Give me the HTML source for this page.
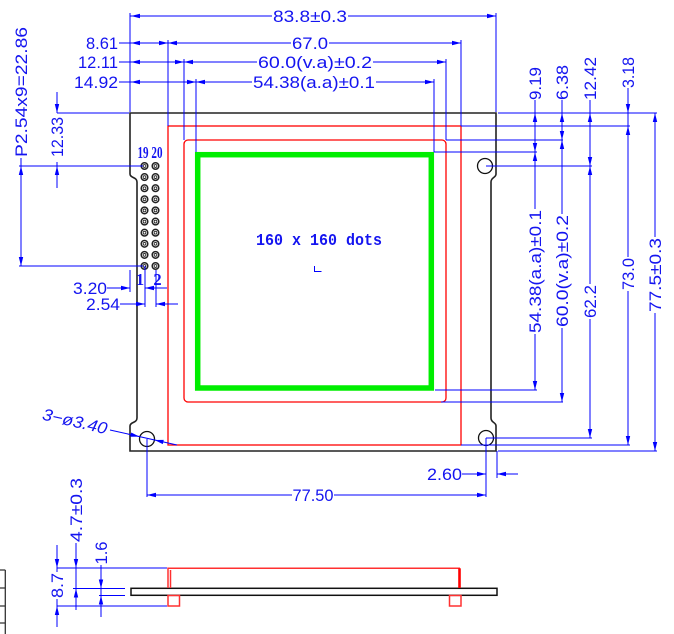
<!DOCTYPE html>
<html><head><meta charset="utf-8"><style>
html,body{margin:0;padding:0;background:#fff;}
svg{display:block}
text{font-family:"Liberation Sans",sans-serif;font-size:16.5px;fill:#1414f0;}
.b{font-family:"Liberation Serif",serif;font-weight:bold;}
.m{font-family:"Liberation Mono",monospace;font-weight:bold;}
</style></head><body>
<svg width="674" height="634" viewBox="0 0 674 634" xmlns="http://www.w3.org/2000/svg">
<rect width="674" height="634" fill="#fff"/>
<path d="M130,113 H496 V174 C496,178 491,177 491,182 V418 C491,423 496,422 496,426 V451 H130 V426 C130,422 137,423 137,418 V182 C137,177 130,178 130,174 Z" fill="none" stroke="#222" stroke-width="1.6"/>
<rect x="168" y="126" width="293" height="319" fill="none" stroke="#ff0000" stroke-width="1.3"/>
<rect x="184" y="140" width="262" height="262" rx="4" fill="none" stroke="#ff0000" stroke-width="1.3"/>
<rect x="197.7" y="154.7" width="233.6" height="233.3" fill="none" stroke="#00ee00" stroke-width="5.5"/>
<g fill="none" stroke="#111" stroke-width="1.3">
<circle cx="485" cy="166" r="7.5"/><circle cx="486" cy="438" r="7.5"/><circle cx="147" cy="439" r="7.5"/>
</g>
<g fill="none" stroke="#222" stroke-width="1.5">
<circle cx="144.5" cy="166" r="3.3"/><circle cx="155.5" cy="166" r="3.3"/>
<circle cx="144.5" cy="177.1" r="3.3"/><circle cx="155.5" cy="177.1" r="3.3"/>
<circle cx="144.5" cy="188.2" r="3.3"/><circle cx="155.5" cy="188.2" r="3.3"/>
<circle cx="144.5" cy="199.3" r="3.3"/><circle cx="155.5" cy="199.3" r="3.3"/>
<circle cx="144.5" cy="210.4" r="3.3"/><circle cx="155.5" cy="210.4" r="3.3"/>
<circle cx="144.5" cy="221.6" r="3.3"/><circle cx="155.5" cy="221.6" r="3.3"/>
<circle cx="144.5" cy="232.7" r="3.3"/><circle cx="155.5" cy="232.7" r="3.3"/>
<circle cx="144.5" cy="243.8" r="3.3"/><circle cx="155.5" cy="243.8" r="3.3"/>
<circle cx="144.5" cy="254.9" r="3.3"/><circle cx="155.5" cy="254.9" r="3.3"/>
<circle cx="144.5" cy="266" r="3.3"/><circle cx="155.5" cy="266" r="3.3"/>
</g>
<g fill="none" stroke="#222" stroke-width="0.9">
<circle cx="144.5" cy="166" r="1.4"/><circle cx="155.5" cy="166" r="1.4"/>
<circle cx="144.5" cy="177.1" r="1.4"/><circle cx="155.5" cy="177.1" r="1.4"/>
<circle cx="144.5" cy="188.2" r="1.4"/><circle cx="155.5" cy="188.2" r="1.4"/>
<circle cx="144.5" cy="199.3" r="1.4"/><circle cx="155.5" cy="199.3" r="1.4"/>
<circle cx="144.5" cy="210.4" r="1.4"/><circle cx="155.5" cy="210.4" r="1.4"/>
<circle cx="144.5" cy="221.6" r="1.4"/><circle cx="155.5" cy="221.6" r="1.4"/>
<circle cx="144.5" cy="232.7" r="1.4"/><circle cx="155.5" cy="232.7" r="1.4"/>
<circle cx="144.5" cy="243.8" r="1.4"/><circle cx="155.5" cy="243.8" r="1.4"/>
<circle cx="144.5" cy="254.9" r="1.4"/><circle cx="155.5" cy="254.9" r="1.4"/>
<circle cx="144.5" cy="266" r="1.4"/><circle cx="155.5" cy="266" r="1.4"/>
</g>
<text class="b" x="150" y="158" text-anchor="middle" font-size="11" textLength="25" lengthAdjust="spacingAndGlyphs">19 20</text>
<text class="b" x="140" y="285" text-anchor="middle" font-size="10">1</text>
<text class="b" x="157.5" y="285" text-anchor="middle" font-size="10">2</text>
<text class="m" x="319" y="245" text-anchor="middle" font-size="15" textLength="126" lengthAdjust="spacingAndGlyphs">160 x 160 dots</text>
<path d="M314.5,266 V271.5 H321.5" fill="none" stroke="#0000ff" stroke-width="1"/>
<g stroke="#0000ff" stroke-width="1" fill="none">
<path d="M130,16 H272 M348,16 H496"/>
<path d="M119,43 H291 M329,43 H461"/>
<path d="M119,62 H257 M373,62 H446"/>
<path d="M119,82 H252 M376,82 H434"/>
<path d="M130,13 V112 M496,13 V112 M168,40 V126 M461,40 V126 M184,59 V140 M446,59 V140 M196,79 V152 M434,79 V152"/>
<path d="M21,158 V266 M19,166 H143 M19,266 H143 M57,92 V113 M57,162 V188 M57,113 H129"/>
<path d="M107,288 H130 M145,288 H167 M120,304 H145 M156,304 H178 M130,270 V292 M145,266 V307 M156,270 V307"/>
<path d="M498,113 H657 M461,126 H630 M446,140 H563 M434,152 H537 M486,166 H592 M435,390 H537 M441,402 H563 M486,438 H592 M461,445 H630 M498,451 H657"/>
<path d="M535,100 V209 M535,334 V390 M562,100 V214 M562,328 V402 M590,100 V284 M590,319 V438 M628,88 V257 M628,291 V445 M655,113 V237 M655,313 V451"/>
<path d="M462,474 H486 M497,474 H518 M486,438 V497 M497,451 V478 M147,495 H292 M334,495 H486 M147,439 V497"/>
<path d="M110,430 L177,445"/>
<path d="M57,568 H167 M57,606 H167 M73,588.5 H125 M99,595.5 H125 M57,545 V572 M57,599 V627 M76,543 V610 M101,565 V617"/>
</g>
<g fill="#0000ff" stroke="none">
<polygon points="131,16 140,13.8 140,18.2"/><polygon points="496,16 487,13.8 487,18.2"/>
<polygon points="131,43 140,40.8 140,45.2"/><polygon points="168,43 159,40.8 159,45.2"/><polygon points="168,43 177,40.8 177,45.2"/><polygon points="461,43 452,40.8 452,45.2"/>
<polygon points="131,62 140,59.8 140,64.2"/><polygon points="184,62 175,59.8 175,64.2"/><polygon points="184,62 193,59.8 193,64.2"/><polygon points="446,62 437,59.8 437,64.2"/>
<polygon points="131,82 140,79.8 140,84.2"/><polygon points="196,82 187,79.8 187,84.2"/><polygon points="196,82 205,79.8 205,84.2"/><polygon points="434,82 425,79.8 425,84.2"/>
<polygon points="21,166 18.8,175 23.2,175"/><polygon points="21,266 18.8,257 23.2,257"/>
<polygon points="57,113 54.8,104 59.2,104"/><polygon points="57,166 54.8,175 59.2,175"/>
<polygon points="130,288 121,285.8 121,290.2"/><polygon points="145,288 154,285.8 154,290.2"/>
<polygon points="145,304 136,301.8 136,306.2"/><polygon points="156,304 165,301.8 165,306.2"/>
<polygon points="535,113 532.8,122 537.2,122"/><polygon points="535,152 532.8,143 537.2,143"/><polygon points="535,152 532.8,161 537.2,161"/><polygon points="535,390 532.8,381 537.2,381"/>
<polygon points="562,113 559.8,122 564.2,122"/><polygon points="562,140 559.8,131 564.2,131"/><polygon points="562,140 559.8,149 564.2,149"/><polygon points="562,402 559.8,393 564.2,393"/>
<polygon points="590,113 587.8,122 592.2,122"/><polygon points="590,166 587.8,157 592.2,157"/><polygon points="590,166 587.8,175 592.2,175"/><polygon points="590,438 587.8,429 592.2,429"/>
<polygon points="628,113 625.8,104 630.2,104"/><polygon points="628,126 625.8,135 630.2,135"/><polygon points="628,445 625.8,436 630.2,436"/>
<polygon points="655,113 652.8,122 657.2,122"/><polygon points="655,451 652.8,442 657.2,442"/>
<polygon points="486,474 477,471.8 477,476.2"/><polygon points="497,474 506,471.8 506,476.2"/>
<polygon points="147,495 156,492.8 156,497.2"/><polygon points="486,495 477,492.8 477,497.2"/>
<polygon points="139.5,436.6 130.24,436.78 131.2,432.48"/><polygon points="154.5,440 162.8,444.12 163.76,439.82"/>
<polygon points="57,568 54.8,559 59.2,559"/><polygon points="57,606 54.8,615 59.2,615"/>
<polygon points="76,568 73.8,559 78.2,559"/><polygon points="76,588.5 73.8,597.5 78.2,597.5"/>
<polygon points="101,588.5 98.8,579.5 103.2,579.5"/><polygon points="101,595.5 98.8,604.5 103.2,604.5"/>
</g>
<g text-anchor="middle">
<text x="310" y="22" textLength="74" lengthAdjust="spacingAndGlyphs">83.8±0.3</text>
<text x="102" y="49" textLength="32" lengthAdjust="spacingAndGlyphs">8.61</text>
<text x="310" y="49" textLength="36" lengthAdjust="spacingAndGlyphs">67.0</text>
<text x="98" y="68" textLength="40" lengthAdjust="spacingAndGlyphs">12.11</text>
<text x="315" y="68" textLength="114" lengthAdjust="spacingAndGlyphs">60.0(v.a)±0.2</text>
<text x="96" y="88" textLength="44" lengthAdjust="spacingAndGlyphs">14.92</text>
<text x="314" y="88" textLength="122" lengthAdjust="spacingAndGlyphs">54.38(a.a)±0.1</text>
<text x="90" y="294" textLength="34" lengthAdjust="spacingAndGlyphs">3.20</text>
<text x="103" y="310" textLength="34" lengthAdjust="spacingAndGlyphs">2.54</text>
<text x="444.5" y="480" textLength="35" lengthAdjust="spacingAndGlyphs">2.60</text>
<text x="313" y="501" textLength="41" lengthAdjust="spacingAndGlyphs">77.50</text>
<text x="21" y="98.2" font-size="17" textLength="130" lengthAdjust="spacingAndGlyphs" transform="rotate(-90 21 92)">P2.54x9=22.86</text>
<text x="57" y="143" textLength="40" lengthAdjust="spacingAndGlyphs" transform="rotate(-90 57 137)">12.33</text>
<text x="535" y="89.5" textLength="33" lengthAdjust="spacingAndGlyphs" transform="rotate(-90 535 83.5)">9.19</text>
<text x="562" y="88.5" textLength="35" lengthAdjust="spacingAndGlyphs" transform="rotate(-90 562 82.5)">6.38</text>
<text x="590" y="84.5" textLength="43" lengthAdjust="spacingAndGlyphs" transform="rotate(-90 590 78.5)">12.42</text>
<text x="628" y="78.5" textLength="31" lengthAdjust="spacingAndGlyphs" transform="rotate(-90 628 72.5)">3.18</text>
<text x="535" y="277.5" textLength="123" lengthAdjust="spacingAndGlyphs" transform="rotate(-90 535 271.5)">54.38(a.a)±0.1</text>
<text x="562" y="277" textLength="112" lengthAdjust="spacingAndGlyphs" transform="rotate(-90 562 271)">60.0(v.a)±0.2</text>
<text x="590" y="307.5" textLength="33" lengthAdjust="spacingAndGlyphs" transform="rotate(-90 590 301.5)">62.2</text>
<text x="628" y="280" textLength="32" lengthAdjust="spacingAndGlyphs" transform="rotate(-90 628 274)">73.0</text>
<text x="655" y="281" textLength="74" lengthAdjust="spacingAndGlyphs" transform="rotate(-90 655 275)">77.5±0.3</text>
<text x="76" y="516" textLength="64" lengthAdjust="spacingAndGlyphs" transform="rotate(-90 76 510)">4.7±0.3</text>
<text x="101" y="559" textLength="23" lengthAdjust="spacingAndGlyphs" transform="rotate(-90 101 553)">1.6</text>
<text x="57" y="591.5" textLength="25" lengthAdjust="spacingAndGlyphs" transform="rotate(-90 57 585.5)">8.7</text>
<text x="75" y="427" font-style="italic" textLength="66" lengthAdjust="spacingAndGlyphs" transform="rotate(13 75 421)">3−ø3.40</text>
</g>
<rect x="131" y="588.3" width="366" height="7" fill="#fff" stroke="#111" stroke-width="1.5"/>
<g fill="none" stroke="#ff3030" stroke-width="1.5">
<path d="M168,588 V568.3 H460"/>
<path d="M170.5,570 V588"/>
<rect x="168" y="595.5" width="11.5" height="10.5"/>
<rect x="449.5" y="595.5" width="11.5" height="10.5"/>
</g>
<path d="M459.5,568.3 V588" stroke="#ff0000" stroke-width="2.6" fill="none"/>
<g stroke="#333" stroke-width="1.3" fill="none">
<path d="M5.3,570 V634 M0,570 H5.3 M0,588 H5.3 M0,606 H5.3 M0,623 H5.3"/>
</g>
</svg>
</body></html>
